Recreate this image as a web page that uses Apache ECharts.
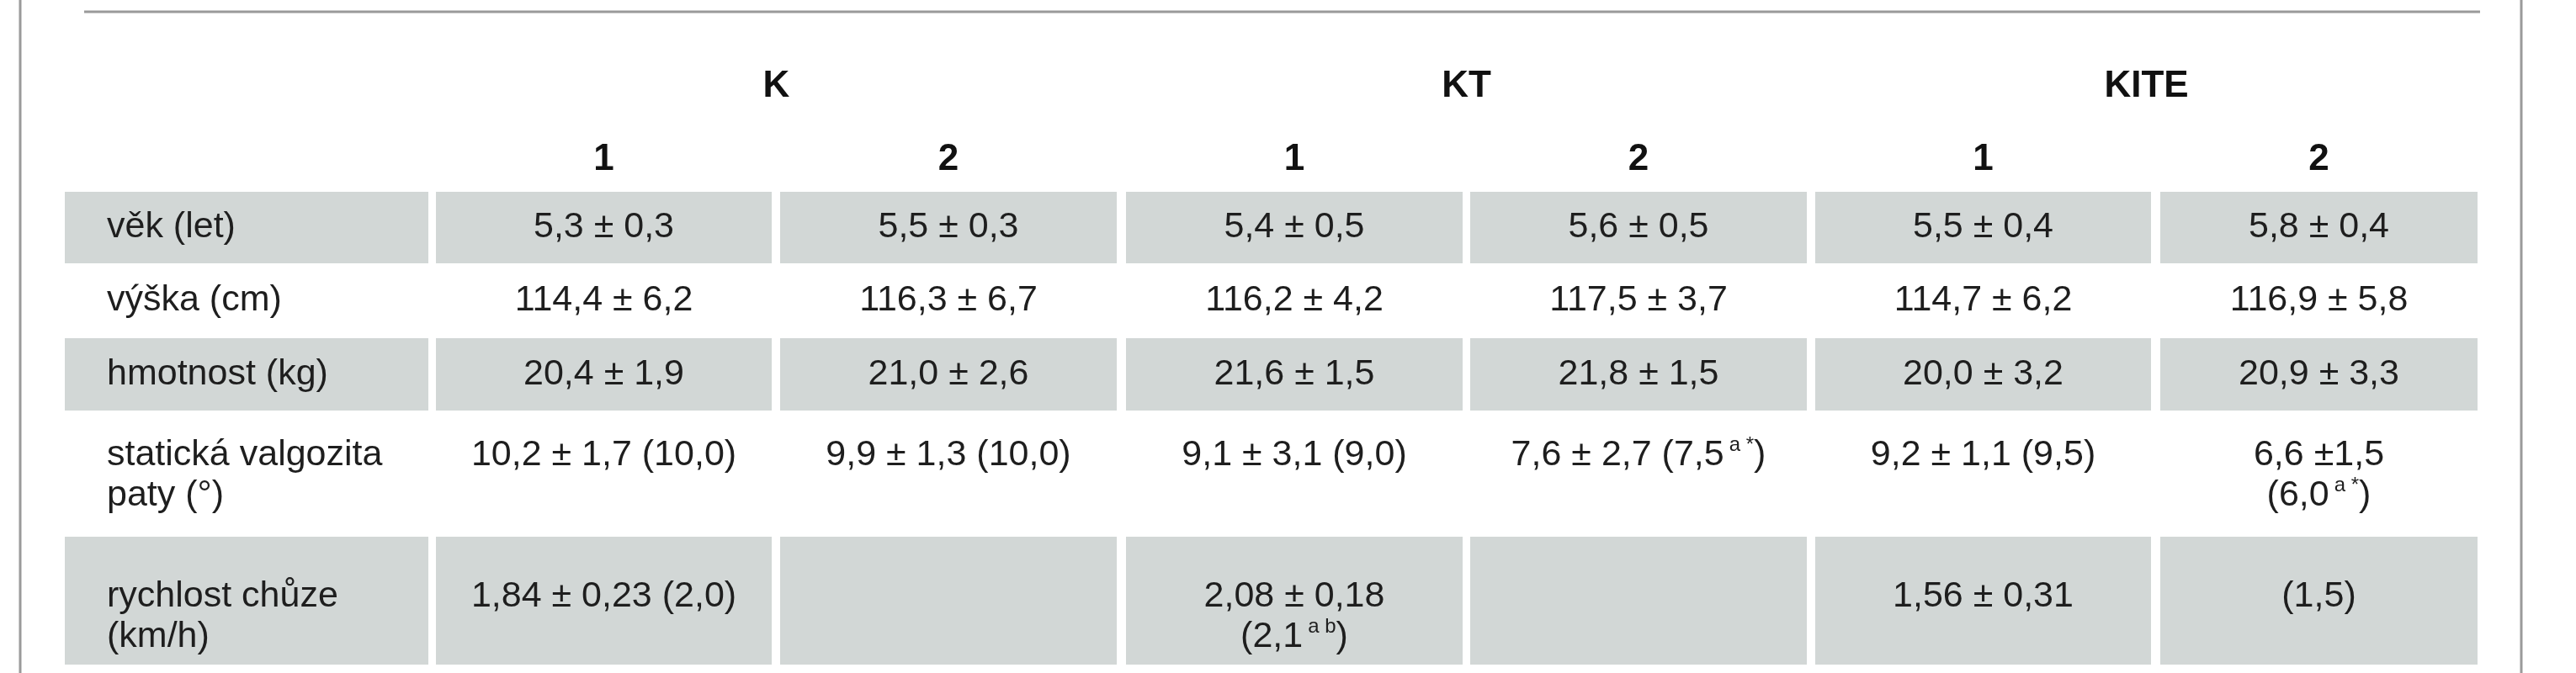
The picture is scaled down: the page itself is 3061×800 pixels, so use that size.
<!DOCTYPE html>
<html><head><meta charset="utf-8">
<script src="https://cdn.jsdelivr.net/npm/echarts@6/dist/echarts.min.js"></script>
<style>html,body{margin:0;padding:0;background:#fff}#c{width:3061px;height:800px}</style>
</head><body><div id="c"></div>
<script>
const groups = ['K', 'KT', 'KITE'];
const subHeaders = ['1', '2', '1', '2', '1', '2'];
const rowLabels = ['věk (let)', 'výška (cm)', 'hmotnost (kg)', 'statická valgozita\npaty (°)', 'rychlost chůze\n(km/h)'];
const rowVek = ['5,3 ± 0,3', '5,5 ± 0,3', '5,4 ± 0,5', '5,6 ± 0,5', '5,5 ± 0,4', '5,8 ± 0,4'];
const rowVyska = ['114,4 ± 6,2', '116,3 ± 6,7', '116,2 ± 4,2', '117,5 ± 3,7', '114,7 ± 6,2', '116,9 ± 5,8'];
const rowHmotnost = ['20,4 ± 1,9', '21,0 ± 2,6', '21,6 ± 1,5', '21,8 ± 1,5', '20,0 ± 3,2', '20,9 ± 3,3'];
const rowValgozita = ['10,2 ± 1,7 (10,0)', '9,9 ± 1,3 (10,0)', '9,1 ± 3,1 (9,0)', '7,6 ± 2,7 (7,5{s|a *})', '9,2 ± 1,1 (9,5)', '6,6 ±1,5\n(6,0{s|a *})'];
const rowRychlost = ['1,84 ± 0,23 (2,0)', '', '2,08 ± 0,18\n(2,1{s|a b})', '', '1,56 ± 0,31', '(1,5)'];
const rows = [rowVek, rowVyska, rowHmotnost, rowValgozita, rowRychlost];

// layout (pixel space)
const colEdges = [[77,509],[518,917],[927,1327],[1338,1738],[1747,2147],[2157,2556],[2567,2944]];
const rowEdges = [[228,313],[313,402],[402,488],[488,638],[638,790]];
const multiTop = [0, 0, 0, 29, 47];
const FONT = '"Liberation Sans", Arial, sans-serif';

const cells = [];
rows.forEach((r, ri) => {
  cells.push([0, ri, rowLabels[ri]]);
  r.forEach((t, ci) => cells.push([ci + 1, ri, t]));
});
const headCells = [];
groups.forEach((g, gi) => headCells.push([gi, -1, g]));
subHeaders.forEach((s, si) => headCells.push([si, -2, s]));

function cellItem(params, api) {
  const c = api.value(0), r = api.value(1);
  const text = cells[params.dataIndex][2];
  const [x0, x1] = colEdges[c], [y0, y1] = rowEdges[r];
  const p0 = api.coord([x0, y0]), p1 = api.coord([x1, y1]);
  const grey = r % 2 === 0;
  const multi = multiTop[r] > 0;
  const left = c === 0;
  return {
    type: 'group',
    children: [
      { type: 'rect', shape: { x: p0[0], y: p0[1], width: p1[0] - p0[0], height: p1[1] - p0[1] },
        style: { fill: grey ? '#d2d7d6' : '#ffffff' } },
      { type: 'text', x: left ? p0[0] + 50 : (p0[0] + p1[0]) / 2, y: multi ? p0[1] + multiTop[r] : (p0[1] + p1[1]) / 2,
        style: { text: text, fill: '#1e1e1e', fontSize: 43, fontFamily: FONT,
          align: left ? 'left' : 'center', verticalAlign: multi ? 'top' : 'middle', lineHeight: 48,
          rich: { s: { fontSize: 24, fontFamily: FONT, fill: '#1e1e1e', verticalAlign: 'top', lineHeight: 48, padding: [0, 0, 10, 6] } } } }
    ]
  };
}
function headItem(params, api) {
  const d = headCells[params.dataIndex];
  let cx, cy;
  if (d[1] === -1) { cx = (colEdges[1 + d[0] * 2][0] + colEdges[2 + d[0] * 2][1]) / 2; cy = 103; }
  else { cx = (colEdges[d[0] + 1][0] + colEdges[d[0] + 1][1]) / 2; cy = 190; }
  const p = api.coord([cx, cy]);
  return { type: 'text', x: p[0], y: p[1],
    style: { text: d[2], fill: '#111', fontSize: 44, fontWeight: 'bold', fontFamily: FONT, align: 'center', verticalAlign: 'middle' } };
}
function frameItem(params, api) {
  const a = api.coord([24, 0]), b = api.coord([24, 800]);
  const c = api.coord([2996, 0]), d = api.coord([2996, 800]);
  const e = api.coord([100, 14]), f = api.coord([2947, 14]);
  const ls = { stroke: '#9a9a9a', lineWidth: 3 };
  return { type: 'group', children: [
    { type: 'line', shape: { x1: a[0], y1: a[1], x2: b[0], y2: b[1] }, style: ls },
    { type: 'line', shape: { x1: c[0], y1: c[1], x2: d[0], y2: d[1] }, style: ls },
    { type: 'line', shape: { x1: e[0], y1: e[1], x2: f[0], y2: f[1] }, style: ls }
  ]};
}
const chart = echarts.init(document.getElementById('c'));
chart.setOption({
  animation: false,
  grid: { left: 0, right: 0, top: 0, bottom: 0 },
  xAxis: { type: 'value', min: 0, max: 3061, show: false },
  yAxis: { type: 'value', min: 0, max: 800, inverse: true, show: false },
  series: [
    { type: 'custom', renderItem: frameItem, data: [[0, 0]], silent: true },
    { type: 'custom', renderItem: cellItem, data: cells.map(c => [c[0], c[1]]), silent: true },
    { type: 'custom', renderItem: headItem, data: headCells.map(c => [c[0], c[1]]), silent: true }
  ]
});
</script></body></html>
